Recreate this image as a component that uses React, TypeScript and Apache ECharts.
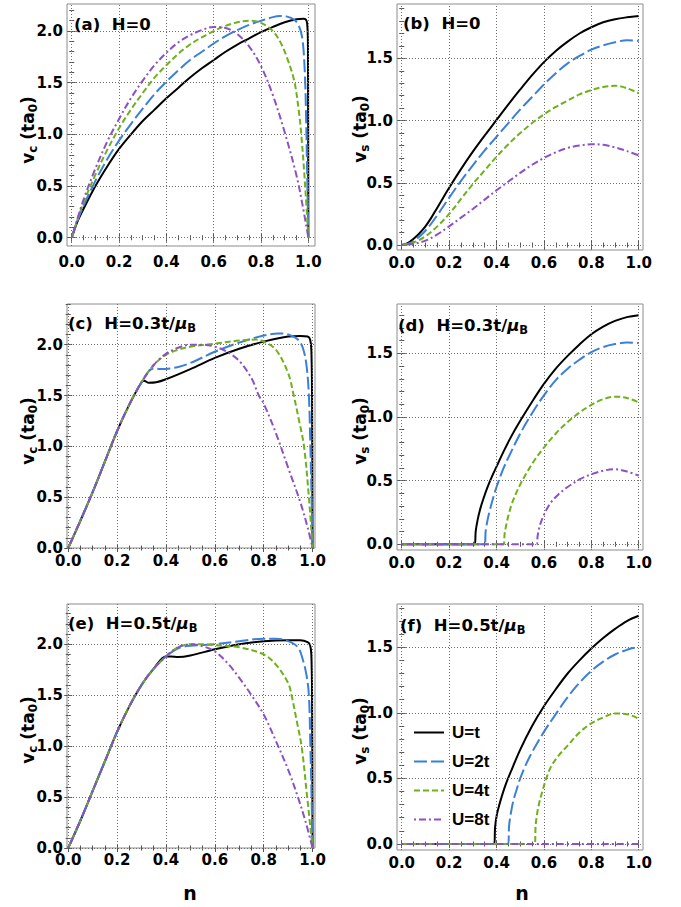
import React, { useEffect, useRef } from "react";
import * as echarts from "echarts";

// ---------- tick labels / categories ----------
const X_MAJOR = [0, 0.2, 0.4, 0.6, 0.8, 1.0];
const VC_MAJOR = [0, 0.5, 1.0, 1.5, 2.0];
const VS_MAJOR = [0, 0.5, 1.0, 1.5];
const SERIES_NAMES = ["U=t", "U=2t", "U=4t", "U=8t"];

// ---------- (a) v_c, H=0 ----------
const vcH0_U1 = [[0,0],[0.025,0.16],[0.05,0.28],[0.1,0.5],[0.15,0.69],[0.2,0.86],[0.25,1.0],[0.3,1.13],[0.35,1.24],[0.4,1.35],[0.45,1.45],[0.5,1.55],[0.55,1.64],[0.6,1.72],[0.65,1.8],[0.7,1.87],[0.75,1.93],[0.8,1.99],[0.85,2.04],[0.9,2.085],[0.95,2.115],[0.98,2.12],[0.99,2.11],[0.995,2.07],[0.998,1.9],[0.999,1.2],[1,0]];
const vcH0_U2 = [[0,0],[0.025,0.17],[0.05,0.31],[0.1,0.55],[0.15,0.76],[0.2,0.94],[0.25,1.1],[0.3,1.25],[0.35,1.39],[0.4,1.51],[0.45,1.62],[0.5,1.72],[0.55,1.8],[0.6,1.88],[0.65,1.95],[0.7,2.01],[0.75,2.06],[0.8,2.1],[0.85,2.135],[0.88,2.145],[0.91,2.14],[0.94,2.11],[0.96,2.05],[0.975,1.92],[0.985,1.6],[0.99,1.2],[0.995,0.6],[1,0]];
const vcH0_U4 = [[0,0],[0.025,0.18],[0.05,0.34],[0.1,0.61],[0.15,0.85],[0.2,1.06],[0.25,1.24],[0.3,1.4],[0.35,1.55],[0.4,1.67],[0.45,1.78],[0.5,1.87],[0.55,1.94],[0.6,2.0],[0.65,2.05],[0.7,2.085],[0.75,2.1],[0.8,2.08],[0.85,2.0],[0.88,1.9],[0.91,1.74],[0.94,1.52],[0.96,1.22],[0.97,1.0],[0.985,0.55],[1,0]];
const vcH0_U8 = [[0,0],[0.025,0.19],[0.05,0.37],[0.1,0.67],[0.15,0.93],[0.2,1.15],[0.25,1.35],[0.3,1.52],[0.35,1.67],[0.4,1.79],[0.45,1.89],[0.5,1.96],[0.55,2.01],[0.6,2.04],[0.65,2.03],[0.7,1.97],[0.75,1.85],[0.8,1.66],[0.85,1.38],[0.9,1.02],[0.95,0.6],[0.975,0.32],[1,0]];

// ---------- (b) v_s, H=0 ----------
const vsH0_U1 = [[0,0],[0.025,0.015],[0.05,0.05],[0.075,0.095],[0.1,0.15],[0.125,0.22],[0.15,0.3],[0.175,0.38],[0.2,0.46],[0.25,0.61],[0.3,0.75],[0.35,0.88],[0.4,1.005],[0.45,1.13],[0.5,1.25],[0.55,1.365],[0.6,1.47],[0.65,1.56],[0.7,1.635],[0.75,1.7],[0.8,1.75],[0.85,1.79],[0.9,1.815],[0.95,1.83],[1,1.84]];
const vsH0_U2 = [[0,0],[0.025,0.008],[0.05,0.03],[0.1,0.115],[0.15,0.24],[0.2,0.38],[0.25,0.515],[0.3,0.64],[0.35,0.76],[0.4,0.87],[0.45,0.98],[0.5,1.09],[0.55,1.19],[0.6,1.29],[0.65,1.38],[0.7,1.46],[0.75,1.52],[0.8,1.57],[0.85,1.605],[0.9,1.63],[0.95,1.645],[1,1.64]];
const vsH0_U4 = [[0,0],[0.05,0.02],[0.1,0.07],[0.15,0.15],[0.2,0.25],[0.25,0.37],[0.3,0.49],[0.35,0.6],[0.4,0.71],[0.45,0.81],[0.5,0.9],[0.55,0.98],[0.6,1.05],[0.65,1.11],[0.7,1.16],[0.75,1.21],[0.8,1.245],[0.85,1.27],[0.9,1.28],[0.95,1.26],[1,1.22]];
const vsH0_U8 = [[0,0],[0.05,0.01],[0.1,0.035],[0.15,0.085],[0.2,0.15],[0.25,0.22],[0.3,0.29],[0.35,0.365],[0.4,0.44],[0.45,0.51],[0.5,0.58],[0.55,0.645],[0.6,0.7],[0.65,0.745],[0.7,0.78],[0.75,0.8],[0.8,0.81],[0.85,0.805],[0.9,0.785],[0.95,0.755],[1,0.72]];

// ---------- (c) v_c, H=0.3t/muB ----------
const vcH03_U1 = [[0,0],[0.05,0.27],[0.1,0.55],[0.15,0.85],[0.2,1.15],[0.25,1.41],[0.3,1.63],[0.31,1.645],[0.33,1.625],[0.36,1.63],[0.4,1.66],[0.5,1.76],[0.6,1.87],[0.7,1.96],[0.8,2.03],[0.9,2.08],[0.95,2.085],[0.98,2.08],[0.99,2.05],[0.995,1.95],[0.998,1.5],[1,0]];
const vcH03_U2 = [[0,0],[0.05,0.27],[0.1,0.55],[0.15,0.85],[0.2,1.15],[0.25,1.41],[0.3,1.63],[0.33,1.74],[0.35,1.765],[0.38,1.76],[0.45,1.78],[0.5,1.82],[0.6,1.93],[0.7,2.02],[0.8,2.09],[0.86,2.11],[0.9,2.1],[0.94,2.05],[0.96,1.97],[0.975,1.8],[0.985,1.5],[0.991,1.0],[0.996,0.5],[1,0]];
const vcH03_U4 = [[0,0],[0.05,0.27],[0.1,0.55],[0.15,0.85],[0.2,1.15],[0.25,1.41],[0.3,1.63],[0.35,1.8],[0.4,1.9],[0.45,1.95],[0.5,1.98],[0.6,2.01],[0.7,2.04],[0.77,2.05],[0.8,2.03],[0.85,1.95],[0.9,1.72],[0.923,1.5],[0.945,1.25],[0.965,1.0],[0.985,0.5],[1,0]];
const vcH03_U8 = [[0,0],[0.05,0.27],[0.1,0.55],[0.15,0.85],[0.2,1.15],[0.25,1.41],[0.3,1.63],[0.35,1.8],[0.4,1.91],[0.45,1.97],[0.5,2.0],[0.55,2.0],[0.6,1.98],[0.65,1.93],[0.7,1.84],[0.75,1.67],[0.78,1.5],[0.8,1.42],[0.85,1.13],[0.9,0.79],[0.95,0.45],[0.98,0.2],[1,0]];

// ---------- (d) v_s, H=0.3t/muB ----------
const vsH03_U1 = [[0,0],[0.308,0],[0.312,0.1],[0.32,0.19],[0.33,0.27],[0.345,0.36],[0.36,0.44],[0.38,0.53],[0.4,0.61],[0.43,0.73],[0.46,0.84],[0.5,0.97],[0.55,1.12],[0.6,1.26],[0.65,1.38],[0.7,1.48],[0.75,1.57],[0.8,1.65],[0.85,1.71],[0.9,1.755],[0.95,1.785],[1,1.8]];
const vsH03_U2 = [[0,0],[0.35,0],[0.354,0.1],[0.362,0.19],[0.372,0.27],[0.385,0.36],[0.4,0.45],[0.43,0.6],[0.46,0.72],[0.5,0.87],[0.55,1.03],[0.6,1.17],[0.65,1.29],[0.7,1.38],[0.75,1.45],[0.8,1.51],[0.85,1.55],[0.9,1.573],[0.95,1.585],[1,1.58]];
const vsH03_U4 = [[0,0],[0.43,0],[0.434,0.08],[0.442,0.16],[0.452,0.24],[0.465,0.32],[0.48,0.39],[0.5,0.47],[0.53,0.57],[0.56,0.66],[0.6,0.76],[0.65,0.87],[0.7,0.96],[0.75,1.035],[0.8,1.095],[0.85,1.14],[0.9,1.16],[0.95,1.15],[1,1.115]];
const vsH03_U8 = [[0,0],[0.57,0],[0.573,0.06],[0.578,0.11],[0.585,0.16],[0.595,0.21],[0.61,0.27],[0.63,0.33],[0.66,0.39],[0.7,0.45],[0.75,0.51],[0.8,0.55],[0.85,0.578],[0.9,0.59],[0.95,0.572],[1,0.54]];

// ---------- (e) v_c, H=0.5t/muB ----------
const vcH05_U1 = [[0,0],[0.05,0.27],[0.1,0.56],[0.15,0.85],[0.2,1.14],[0.25,1.39],[0.3,1.6],[0.35,1.76],[0.4,1.88],[0.42,1.88],[0.45,1.875],[0.5,1.89],[0.6,1.95],[0.7,2.0],[0.8,2.03],[0.9,2.04],[0.95,2.04],[0.98,2.02],[0.99,1.99],[0.995,1.9],[0.998,1.5],[1,0]];
const vcH05_U2 = [[0,0],[0.05,0.27],[0.1,0.56],[0.15,0.85],[0.2,1.14],[0.25,1.39],[0.3,1.6],[0.35,1.76],[0.4,1.88],[0.45,1.96],[0.5,1.985],[0.6,2.0],[0.7,2.03],[0.8,2.055],[0.85,2.055],[0.9,2.03],[0.94,1.97],[0.96,1.85],[0.975,1.7],[0.985,1.5],[0.991,1.0],[0.996,0.5],[1,0]];
const vcH05_U4 = [[0,0],[0.05,0.27],[0.1,0.56],[0.15,0.85],[0.2,1.14],[0.25,1.39],[0.3,1.6],[0.35,1.76],[0.4,1.88],[0.45,1.97],[0.5,2.0],[0.55,2.0],[0.6,1.99],[0.7,1.97],[0.8,1.9],[0.85,1.8],[0.9,1.62],[0.914,1.5],[0.935,1.25],[0.955,1.0],[0.978,0.5],[1,0]];
const vcH05_U8 = [[0,0],[0.05,0.27],[0.1,0.56],[0.15,0.85],[0.2,1.14],[0.25,1.39],[0.3,1.6],[0.35,1.76],[0.4,1.88],[0.45,1.97],[0.5,2.0],[0.55,1.98],[0.6,1.93],[0.65,1.82],[0.7,1.67],[0.75,1.5],[0.8,1.31],[0.85,1.05],[0.9,0.77],[0.94,0.5],[0.97,0.27],[1,0]];

// ---------- (f) v_s, H=0.5t/muB ----------
const vsH05_U1 = [[0,0],[0.39,0],[0.394,0.13],[0.402,0.23],[0.412,0.3],[0.425,0.38],[0.44,0.46],[0.46,0.55],[0.5,0.72],[0.55,0.9],[0.6,1.05],[0.65,1.18],[0.7,1.3],[0.75,1.4],[0.8,1.49],[0.85,1.57],[0.9,1.64],[0.95,1.7],[1,1.74]];
const vsH05_U2 = [[0,0],[0.449,0],[0.453,0.14],[0.461,0.24],[0.471,0.33],[0.484,0.41],[0.5,0.5],[0.52,0.59],[0.55,0.7],[0.6,0.855],[0.65,0.99],[0.7,1.12],[0.75,1.23],[0.8,1.32],[0.85,1.39],[0.9,1.445],[0.95,1.48],[0.98,1.495],[1,1.495]];
const vsH05_U4 = [[0,0],[0.561,0],[0.565,0.14],[0.572,0.24],[0.581,0.32],[0.593,0.4],[0.61,0.5],[0.63,0.59],[0.66,0.67],[0.7,0.75],[0.75,0.85],[0.8,0.92],[0.85,0.965],[0.9,0.995],[0.95,0.99],[1,0.955]];
const vsH05_U8 = [[0,0],[1,0]];

// ---------- styling ----------
const WIDE = '"DejaVu Sans", Verdana, sans-serif';
const FONT = '"Liberation Sans", Arial, Helvetica, sans-serif';
const COLORS = ["#000000", "#3b7fd8", "#6fb11c", "#8a52c6"];
const DASHES: any[] = ["solid", [13, 4], [6, 3], [2, 3, 7, 3]];
const WIDTHS = [2, 2, 2, 2];
const FRAME = "#8c8c8c";
const TICK = "#555555";
const GRIDLINE = "#707070";

const PANELS = [
  { frame: [67, 4, 315, 246], xr: [-0.02, 1.028], yr: [-0.08, 2.262], yMajor: VC_MAJOR, xMargin: 8, data: [vcH0_U1, vcH0_U2, vcH0_U4, vcH0_U8] },
  { frame: [397, 4, 643, 250], xr: [-0.02, 1.018], yr: [-0.04, 1.937], yMajor: VS_MAJOR, xMargin: 5, data: [vsH0_U1, vsH0_U2, vsH0_U4, vsH0_U8] },
  { frame: [67, 304, 315, 548], xr: [-0.005, 1.01], yr: [0, 2.4], yMajor: VC_MAJOR, xMargin: 5, data: [vcH03_U1, vcH03_U2, vcH03_U4, vcH03_U8] },
  { frame: [397, 304, 643, 550], xr: [-0.02, 1.018], yr: [-0.045, 1.888], yMajor: VS_MAJOR, xMargin: 5, data: [vsH03_U1, vsH03_U2, vsH03_U4, vsH03_U8] },
  { frame: [67, 604, 315, 848], xr: [-0.005, 1.01], yr: [0, 2.395], yMajor: VC_MAJOR, xMargin: 4, data: [vcH05_U1, vcH05_U2, vcH05_U4, vcH05_U8] },
  { frame: [397, 604, 643, 850], xr: [-0.02, 1.018], yr: [-0.046, 1.83], yMajor: VS_MAJOR, xMargin: 5, data: [vsH05_U1, vsH05_U2, vsH05_U4, vsH05_U8] },
];

const TITLES = [
  { x: 74, y: 24, text: "{b|(a)  H=0}" },
  { x: 403, y: 23, text: "{b|(b)  H=0}" },
  { x: 68, y: 323, text: "{b|(c)  H=0.3t/}{mu|μ}{sub|B}" },
  { x: 398, y: 325, text: "{b|(d)  H=0.3t/}{mu|μ}{sub|B}" },
  { x: 68, y: 623, text: "{b|(e)  H=0.5t/}{mu|μ}{sub|B}" },
  { x: 400, y: 625, text: "{b|(f)  H=0.5t/}{mu|μ}{sub|B}" },
];

const YTITLES = [
  { x: 28, y: 130, text: "{b|v}{s|c}{b| (ta}{s|0}{b|)}" },
  { x: 360, y: 129, text: "{b|v}{s|s}{b| (ta}{s|0}{b|)}" },
  { x: 28, y: 431, text: "{b|v}{s|c}{b| (ta}{s|0}{b|)}" },
  { x: 360, y: 431, text: "{b|v}{s|s}{b| (ta}{s|0}{b|)}" },
  { x: 28, y: 730, text: "{b|v}{s|c}{b| (ta}{s|0}{b|)}" },
  { x: 360, y: 731, text: "{b|v}{s|s}{b| (ta}{s|0}{b|)}" },
];

function minorValues(r: number[], step: number, majors: number[]) {
  const out: number[] = [];
  const k0 = Math.ceil(r[0] / step - 1e-9);
  const k1 = Math.floor(r[1] / step + 1e-9);
  for (let k = k0; k <= k1; k++) {
    const v = Math.round(k * step * 10000) / 10000;
    if (majors.some((m) => Math.abs(m - v) < 1e-6)) continue;
    out.push(v);
  }
  return out;
}

function buildOption() {
  const grid: any[] = [];
  const xAxis: any[] = [];
  const yAxis: any[] = [];
  const series: any[] = [];

  PANELS.forEach((p, i) => {
    const [L, T, R, B] = p.frame;
    grid.push({ left: L, top: T, width: R - L, height: B - T, show: true, borderColor: FRAME, borderWidth: 1, backgroundColor: "transparent" });
    const xMinor = minorValues(p.xr, 0.05, X_MAJOR);
    const yMinor = minorValues(p.yr, 0.1, p.yMajor);
    const xb = { type: "value", gridIndex: i, min: p.xr[0], max: p.xr[1], axisLine: { show: false }, splitLine: { show: false }, minorTick: { show: false } };
    const yb = { type: "value", gridIndex: i, min: p.yr[0], max: p.yr[1], axisLine: { show: false }, splitLine: { show: false }, minorTick: { show: false } };
    const lbl = { fontFamily: WIDE, fontWeight: "bold", fontSize: 15, color: "#000" };
    ["bottom", "top"].forEach((pos) => {
      xAxis.push({
        ...xb, position: pos,
        axisTick: { show: true, inside: true, length: 4, customValues: X_MAJOR, lineStyle: { color: TICK, width: 1 } },
        axisLabel: pos === "bottom"
          ? { show: true, customValues: X_MAJOR, margin: p.xMargin, formatter: (v: number) => v.toFixed(1), ...lbl }
          : { show: false },
      });
      xAxis.push({
        ...xb, position: pos,
        axisTick: { show: true, inside: true, length: 2.5, customValues: xMinor, lineStyle: { color: TICK, width: 1 } },
        axisLabel: { show: false },
      });
    });
    ["left", "right"].forEach((pos) => {
      yAxis.push({
        ...yb, position: pos,
        axisTick: { show: true, inside: true, length: 4, customValues: p.yMajor, lineStyle: { color: TICK, width: 1 } },
        axisLabel: pos === "left"
          ? { show: true, customValues: p.yMajor, margin: 4, formatter: (v: number) => v.toFixed(1), ...lbl }
          : { show: false },
      });
      yAxis.push({
        ...yb, position: pos,
        axisTick: { show: true, inside: true, length: 2.5, customValues: yMinor, lineStyle: { color: TICK, width: 1 } },
        axisLabel: { show: false },
      });
    });

    // dotted grid lines through the library's scales
    series.push({
      type: "line", name: "grid" + i, xAxisIndex: 4 * i, yAxisIndex: 4 * i,
      data: [[p.xr[0], p.yr[0]]], symbol: "none", showSymbol: false, lineStyle: { opacity: 0 }, silent: true, z: 1,
      markLine: {
        silent: true, symbol: ["none", "none"], label: { show: false }, animation: false,
        lineStyle: { color: GRIDLINE, type: [1, 2], width: 1 },
        emphasis: { disabled: true },
        data: [...X_MAJOR.map((v) => ({ xAxis: v })), ...p.yMajor.map((v) => ({ yAxis: v }))],
      },
    });

    p.data.forEach((d, k) => {
      series.push({
        type: "line", name: SERIES_NAMES[k], xAxisIndex: 4 * i, yAxisIndex: 4 * i,
        data: d, symbol: "none", showSymbol: false, smooth: 0.35, z: 3 + k,
        lineStyle: { color: COLORS[k], width: WIDTHS[k], type: DASHES[k], cap: "butt" },
        itemStyle: { color: COLORS[k] },
        emphasis: { disabled: true },
      });
    });
  });

  const richTitle = {
    b: { fontFamily: WIDE, fontWeight: "bold", fontSize: 16.5, lineHeight: 22, color: "#000" },
    mu: { fontFamily: WIDE, fontWeight: "bold", fontStyle: "italic", fontSize: 16.5, lineHeight: 22, color: "#000" },
    sub: { fontFamily: WIDE, fontWeight: "bold", fontSize: 11.5, lineHeight: 12, verticalAlign: "bottom", color: "#000" },
  };
  const richY = {
    b: { fontFamily: WIDE, fontWeight: "bold", fontSize: 17, lineHeight: 22, color: "#000" },
    s: { fontFamily: WIDE, fontWeight: "bold", fontSize: 12, lineHeight: 12, verticalAlign: "bottom", color: "#000" },
  };

  const graphic: any[] = [];
  TITLES.forEach((t) => graphic.push({ type: "text", x: t.x, y: t.y, silent: true, z: 10, style: { text: t.text, rich: richTitle, align: "left", verticalAlign: "middle" } }));
  YTITLES.forEach((t) => graphic.push({ type: "text", x: t.x, y: t.y, rotation: Math.PI / 2, silent: true, style: { text: t.text, rich: richY, align: "center", verticalAlign: "middle" } }));
  [190, 522].forEach((x) => graphic.push({ type: "text", x, y: 893, silent: true, style: { text: "n", font: `bold 19px ${WIDE}`, fill: "#000", align: "center", verticalAlign: "middle" } }));

  return {
    animation: false,
    backgroundColor: "#ffffff",
    grid, xAxis, yAxis, series, graphic,
    legend: {
      data: SERIES_NAMES, orient: "vertical", left: 408, top: 719, itemWidth: 30, itemHeight: 14, itemGap: 12,
      selectedMode: false,
      itemStyle: { color: "rgba(0,0,0,0)", borderWidth: 0, opacity: 0 },
      textStyle: { fontFamily: FONT, fontWeight: "bold", fontSize: 17, color: "#000", padding: [0, 0, 0, 3] },
    },
  };
}

export default function App() {
  const ref = useRef<HTMLDivElement>(null);
  useEffect(() => {
    if (!ref.current) return;
    const chart = echarts.init(ref.current, null, { renderer: "svg" });
    chart.setOption(buildOption() as any);
    return () => chart.dispose();
  }, []);
  return <div ref={ref} style={{ position: "absolute", left: 0, top: 0, width: 681, height: 907 }} />;
}
